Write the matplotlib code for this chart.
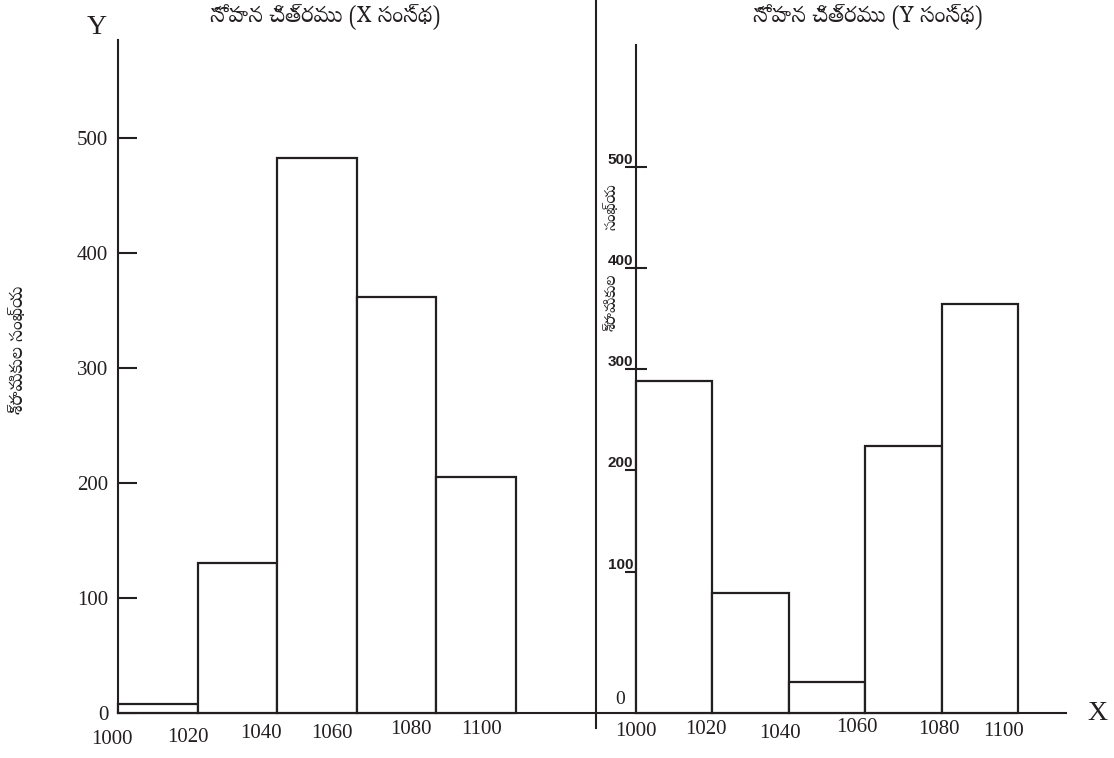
import os

import matplotlib

matplotlib.use("Agg")
import matplotlib.pyplot as plt
import numpy as np
from matplotlib import font_manager
from matplotlib.lines import Line2D

# wage classes and number of workers in the two firms
bin_edges = [1000, 1020, 1040, 1060, 1080, 1100]
edge_labels = ["1000", "1020", "1040", "1060", "1080", "1100"]
firm_x_workers = [8, 130, 482, 362, 205]
firm_y_workers = [329, 119, 31, 264, 405]
left_ticks = [0, 100, 200, 300, 400, 500]
right_ticks = [100, 200, 300, 400, 500]

title_x = "సోపాన చిత్రము (X సంస్థ)"
title_y = "సోపాన చిత్రము (Y సంస్థ)"
ylabel_words = ["శ్రామికుల", "సంఖ్య"]

TELUGU_FILE = "/usr/share/fonts/truetype/google-fonts/NotoSerifTelugu[wght].ttf"
if os.path.exists(TELUGU_FILE):
    font_manager.fontManager.addfont(TELUGU_FILE)

INK = "#231f20"
SERIF = ["Liberation Serif", "DejaVu Serif"]
TELUGU = ["Noto Serif Telugu", "Liberation Serif", "DejaVu Sans"]

# hand-drawn look: label nudges in pixels
left_label_dx = [-6, -10, -16, -25, -25, -34]
left_label_dy = [-26, -24, -21, -21, -17, -17]
right_label_dx = [0, -7, -9, -8, -3, -14]
right_label_dy = [-18, -16, -21, -14, -16, -19]
right_tick_shift = 40

W, H = 1114, 758
fig = plt.figure(figsize=(W / 100, H / 100), dpi=100)


def px_box(x0, x1, y_top, y_bottom):
    return [x0 / W, 1 - y_bottom / H, (x1 - x0) / W, (y_bottom - y_top) / H]


def fig_text(x, y, s, **kw):
    return fig.text(x / W, 1 - y / H, s, ha="center", va="center", color=INK, **kw)


def hist(ax, heights):
    widths = np.diff(bin_edges)
    ax.bar(bin_edges[:-1], heights, width=widths, align="edge", color="white",
           edgecolor=INK, linewidth=1.6, clip_on=False, zorder=3)


def edge_names(ax, dxs, dys):
    for edge, name, dx, dy in zip(bin_edges, edge_labels, dxs, dys):
        ax.annotate(name, xy=(edge, 0), xycoords=("data", "axes fraction"),
                    xytext=(dx, dy), textcoords="offset pixels", ha="center",
                    va="center", fontsize=15, family=SERIF, color=INK)


def plain_spines(ax):
    for side in ("top", "right"):
        ax.spines[side].set_visible(False)
    for side in ("left", "bottom"):
        ax.spines[side].set_linewidth(1.5)
        ax.spines[side].set_color(INK)
    ax.set_xticks([])


# left panel: firm X
ax1 = fig.add_axes(px_box(118, 596, 40, 713))
hist(ax1, firm_x_workers)
ax1.set_xlim(1000, 1120.1)
ax1.set_ylim(0, 585)
plain_spines(ax1)
ax1.set_yticks(left_ticks)
ax1.set_yticklabels([str(t) for t in left_ticks], family=SERIF, fontsize=15, color=INK)
ax1.tick_params(axis="y", direction="in", length=14, width=1.5, color=INK, pad=7)
edge_names(ax1, left_label_dx, left_label_dy)
fig_text(325, 17, title_x, family=TELUGU, fontsize=16, fontweight="light")
fig_text(18, 350, " ".join(ylabel_words), rotation=90, family=TELUGU,
         fontsize=13, fontweight="light")
fig_text(97, 28, "Y", family=SERIF, fontsize=20)

# right panel: firm Y
ax2 = fig.add_axes(px_box(596, 1066, 45, 713))
hist(ax2, firm_y_workers)
ax2.set_xlim(989.5, 1112.6)
ax2.set_ylim(0, 661)
plain_spines(ax2)
ax2.spines["left"].set_position(("data", 1000))
ax2.set_yticks(np.array(right_ticks) + right_tick_shift)
ax2.set_yticklabels([str(t) for t in right_ticks], family=["Liberation Sans"],
                    fontweight="bold", fontsize=11, color=INK)
ax2.tick_params(axis="y", direction="inout", length=16, width=1.5, color=INK, pad=-6)
plt.setp(ax2.get_yticklabels(), va="bottom")
ax2.annotate("0", xy=(1000, 0), xytext=(-16, 13), textcoords="offset pixels",
             ha="center", va="center", family=SERIF, fontsize=14, color=INK)
edge_names(ax2, right_label_dx, right_label_dy)
fig_text(868, 17, title_y, family=TELUGU, fontsize=16, fontweight="light")
# the label is split around the "400" tick, as in the reference
fig_text(612, 302, ylabel_words[0], rotation=90, family=TELUGU, fontsize=11,
         fontweight="light")
fig_text(612, 207, ylabel_words[1], rotation=90, family=TELUGU, fontsize=11,
         fontweight="light")
fig_text(1097, 713, "X", family=SERIF, fontsize=20)

# divider between the two panels
fig.add_artist(Line2D([596 / W, 596 / W], [1 - 728 / H, 1.0], color=INK, linewidth=1.5))

fig.savefig("out.png", dpi=100)
